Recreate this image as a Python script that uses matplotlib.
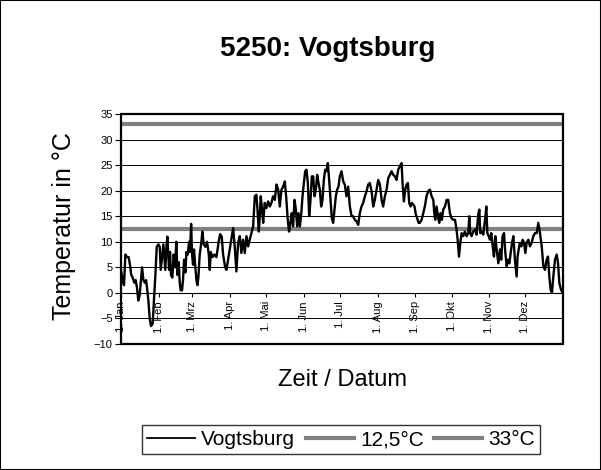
import matplotlib
matplotlib.use("Agg")
import matplotlib.pyplot as plt
from matplotlib.patches import Rectangle
from matplotlib.lines import Line2D

plt.rcParams['font.family'] = ['Liberation Sans', 'DejaVu Sans']

title = "5250: Vogtsburg"
series_name = "Vogtsburg"
ref_names = ["12,5°C", "33°C"]
ref_values = [12.5, 33.0]
month_ticks = [0, 31, 59, 90, 120, 151, 181, 212, 243, 273, 304, 334]
month_labels = ["1. Jan", "1. Feb", "1. Mrz", "1. Apr", "1. Mai", "1. Jun",
                "1. Jul", "1. Aug", "1. Sep", "1. Okt", "1. Nov", "1. Dez"]
y_ticks = [-10, -5, 0, 5, 10, 15, 20, 25, 30, 35]

# day of year (0 = 1. Jan) and daily temperature
days_q1 = [0.0, 1.7, 2.5, 3.6, 5.0, 6.3, 7.4, 8.5, 9.6, 11.0, 12.1, 13.2, 14.3, 15.4,
           16.5, 17.4, 18.5, 19.6, 20.7, 21.5, 22.6, 23.7, 24.8, 26.2, 27.3, 28.4,
           29.5, 30.9, 32.0, 32.8, 33.9, 35.0, 35.8, 36.6, 37.5, 38.3, 39.1, 39.7,
           40.5, 41.3, 42.4, 43.5, 44.6, 45.7, 46.6, 47.7, 48.5, 49.3, 50.4, 51.2,
           52.1, 53.2, 54.0, 55.1, 56.2, 57.0, 57.9, 58.7, 59.5, 60.3, 61.4, 62.3,
           63.1, 63.9, 65.0, 66.4, 67.2, 68.3, 69.7, 71.1, 72.5, 73.3, 74.1, 75.5,
           77.1, 78.8, 80.7, 81.8, 83.2, 84.3, 86.0, 87.1]
temps_q1 = [4.5, 2.0, 1.5, 7.5, 7.0, 7.0, 5.5, 3.5, 3.0, 2.0, 2.5, 1.0, -1.5, -0.5,
            2.5, 5.0, 2.5, 2.0, 2.5, 1.0, -1.5, -5.0, -6.5, -6.0, -1.0, 3.5,
            9.0, 9.5, 9.0, 4.5, 7.0, 9.5, 7.0, 4.5, 9.0, 11.0, 7.5, 4.5,
            8.0, 3.5, 3.0, 7.5, 5.0, 10.0, 3.5, 6.0, 2.0, 0.5, 0.5, 2.5,
            6.5, 4.0, 8.0, 7.5, 10.0, 8.0, 13.5, 7.5, 5.5, 8.5, 5.0, 2.5,
            1.5, 3.0, 7.5, 10.0, 12.0, 9.5, 9.0, 10.0, 7.5, 4.5, 8.0, 7.0,
            7.5, 7.0, 10.0, 11.5, 11.0, 7.5, 5.0, 4.5]

days_q2 = [89.8, 92.6, 93.9, 95.3, 96.7, 98.1, 99.4, 100.8, 102.2, 103.6, 105.0,
           106.3, 107.7, 109.1, 110.5, 111.8, 112.7, 113.8, 114.6, 115.4, 116.5,
           117.4, 118.7, 120.1, 121.5, 122.9, 124.2, 125.6, 127.0, 128.4, 129.8,
           131.1, 132.5, 133.9, 135.3, 136.6, 137.7, 138.8, 139.9, 141.0, 142.1,
           143.3, 144.4, 145.5, 146.6, 147.7, 148.8, 149.9, 151.0, 152.1, 153.2,
           154.3, 155.4, 156.5, 157.6, 158.7, 159.8, 160.9, 162.0, 163.1, 164.2,
           165.3, 166.4, 167.5, 168.6, 169.7, 170.8, 171.9, 173.0, 174.1, 175.2,
           176.3, 177.4, 178.5, 179.6]
temps_q2 = [8.5, 12.7, 9.1, 4.2, 9.8, 11.1, 7.8, 10.4, 7.8, 11.1, 9.1,
            10.4, 11.7, 13.0, 18.9, 19.2, 16.3, 12.0, 15.0, 18.9, 16.3,
            13.7, 17.6, 16.6, 17.9, 16.9, 17.6, 18.9, 18.2, 21.2, 20.2,
            16.9, 20.2, 20.8, 21.8, 18.2, 14.3, 12.0, 13.7, 15.6, 13.0,
            18.2, 16.3, 13.0, 15.6, 13.0, 15.3, 18.9, 21.5, 23.8, 24.1,
            21.5, 15.0, 18.2, 22.8, 22.8, 18.9, 20.2, 23.1, 21.5, 20.2,
            16.9, 18.2, 22.1, 24.1, 23.8, 25.4, 22.1, 18.2, 14.6, 13.7,
            16.3, 18.9, 20.2, 20.8]

days_q3 = [180.7, 182.1, 183.5, 184.8, 186.2, 187.6, 189.0, 190.4, 191.7, 193.1,
           194.5, 195.9, 197.2, 198.6, 200.0, 201.4, 202.8, 204.1, 205.5, 206.9,
           208.3, 209.6, 211.0, 212.4, 213.8, 215.2, 216.5, 217.9, 219.3, 220.7,
           222.1, 223.4, 224.8, 226.2, 227.5, 228.9, 230.3, 231.7, 232.5, 233.6,
           234.7, 235.8, 236.9, 238.0, 239.1, 240.2, 241.3, 242.4, 243.5, 244.6,
           245.7, 246.8, 248.2, 249.6, 250.9, 252.3, 253.7, 255.1, 256.5, 257.9,
           258.7, 259.5, 260.6, 262.0, 262.8, 263.9, 265.0, 266.1, 267.5, 268.9,
           270.2, 271.6]
temps_q3 = [22.8, 23.8, 21.8, 21.2, 18.9, 20.8, 16.9, 15.0, 15.0, 14.3,
            14.0, 13.3, 15.6, 16.9, 17.6, 18.9, 19.9, 21.2, 21.5, 19.9,
            16.9, 18.2, 20.2, 22.1, 21.2, 18.2, 16.9, 18.9, 20.2, 22.5,
            23.1, 23.8, 23.1, 22.8, 22.1, 24.1, 24.8, 25.4, 21.5, 17.9,
            20.2, 21.2, 21.5, 17.6, 16.9, 17.6, 17.3, 16.9, 15.3, 14.6,
            13.7, 13.7, 14.3, 15.6, 16.9, 18.9, 19.9, 20.2, 18.9, 18.2,
            15.6, 14.3, 16.9, 14.6, 13.7, 15.6, 14.3, 16.3, 16.9, 18.2,
            18.2, 15.6]

days_q4 = [273.0, 274.4, 275.8, 277.1, 278.0, 279.1, 280.2, 281.3, 282.6, 284.0,
           285.4, 286.8, 287.6, 288.4, 289.5, 290.9, 292.3, 293.6, 295.0, 295.9,
           296.7, 297.8, 299.2, 300.6, 301.7, 302.5, 303.6, 304.7, 305.8, 306.9,
           308.0, 309.1, 310.2, 311.6, 313.0, 314.0, 315.1, 316.3, 317.4, 318.5,
           319.6, 320.7, 321.8, 322.9, 324.0, 325.3, 326.7, 327.5, 328.4, 329.4,
           330.6, 331.7, 332.8, 333.9, 335.0, 336.4, 337.7, 339.1, 340.5, 341.9,
           343.3, 344.6, 346.0, 347.4, 348.8, 350.1, 351.5, 352.6, 353.7, 354.8,
           355.9, 357.0, 358.4, 359.8, 360.9, 362.0, 363.4, 364.7]
temps_q4 = [14.6, 14.3, 14.3, 12.4, 10.4, 7.1, 9.8, 11.7, 11.1, 12.0,
            11.1, 11.7, 15.0, 11.7, 11.1, 12.0, 12.4, 11.4, 15.3, 16.3,
            11.7, 12.0, 11.4, 14.3, 16.9, 11.7, 11.1, 10.4, 11.7, 9.1,
            7.1, 11.1, 8.5, 5.8, 8.5, 6.5, 11.1, 11.7, 7.8, 5.2,
            6.5, 5.8, 7.8, 9.8, 11.1, 6.5, 3.2, 7.1, 8.5, 9.8,
            9.1, 10.4, 9.8, 7.8, 9.8, 10.4, 9.1, 9.8, 11.1, 11.7,
            11.7, 13.7, 11.7, 9.1, 5.2, 4.5, 6.5, 7.1, 3.2, 0.6,
            0.0, 3.2, 6.5, 7.5, 5.8, 1.9, 0.6, 0.0]

days = days_q1 + days_q2 + days_q3 + days_q4
temps = temps_q1 + temps_q2 + temps_q3 + temps_q4

W, H = 601, 470
fig = plt.figure(figsize=(W / 100, H / 100), dpi=100)
ax = fig.add_axes([121 / W, 1 - 344 / H, (563 - 121) / W, (344 - 114) / H])

ax.set_xlim(0, 365)
ax.set_ylim(-10, 35)

# gridlines
ax.set_yticks(y_ticks)
ax.yaxis.grid(True, color='black', linewidth=0.7)
ax.set_axisbelow(True)

# reference lines
ref_color = '#808080'
for v in ref_values:
    ax.axhline(v, color=ref_color, linewidth=3.0, zorder=2)

# data line
ax.plot(days, temps, color='black', linewidth=1.7, zorder=3, solid_joinstyle='round')

# axes styling
for s in ['top', 'right', 'left']:
    ax.spines[s].set_visible(False)
ax.spines['bottom'].set_position(('data', 0))
ax.spines['bottom'].set_linewidth(0.8)
ax.add_patch(Rectangle((0, 0), 1, 1, transform=ax.transAxes, fill=False,
                       edgecolor='black', linewidth=1.6, zorder=5, clip_on=False))

ax.set_xticks(month_ticks)
ax.set_xticklabels(month_labels, rotation=90, fontsize=8)
ax.tick_params(axis='x', direction='out', length=3, width=0.8, pad=3)
ax.tick_params(axis='y', direction='out', length=4, width=0.8, pad=2, labelsize=8)
for lab in ax.get_xticklabels():
    lab.set_zorder(6)

fig.text(327.5 / W, 1 - 48.7 / H, title, ha='center', va='center',
         fontsize=20, fontweight='bold')
fig.text(64 / W, 1 - 226 / H, "Temperatur in °C", rotation=90,
         ha='center', va='center', fontsize=18)
fig.text(342 / W, 1 - 380 / H, "Zeit / Datum", ha='center', va='center', fontsize=17)

handles = [Line2D([], [], color='black', linewidth=1.3),
           Line2D([], [], color=ref_color, linewidth=3.0),
           Line2D([], [], color=ref_color, linewidth=3.0)]
leg = fig.legend(handles, [series_name] + ref_names, loc='center',
                 bbox_to_anchor=(341 / W, 1 - 439.5 / H), ncol=3, fontsize=15,
                 frameon=True, fancybox=False, edgecolor='black',
                 handlelength=2.3, handletextpad=0.3, columnspacing=0.5,
                 borderpad=0.25, borderaxespad=0)
leg.get_frame().set_linewidth(1.0)

fig.add_artist(Rectangle((0, 0), 1, 1, transform=fig.transFigure, fill=False,
                         edgecolor='black', linewidth=1.5))

fig.savefig("out.png", dpi=100)
